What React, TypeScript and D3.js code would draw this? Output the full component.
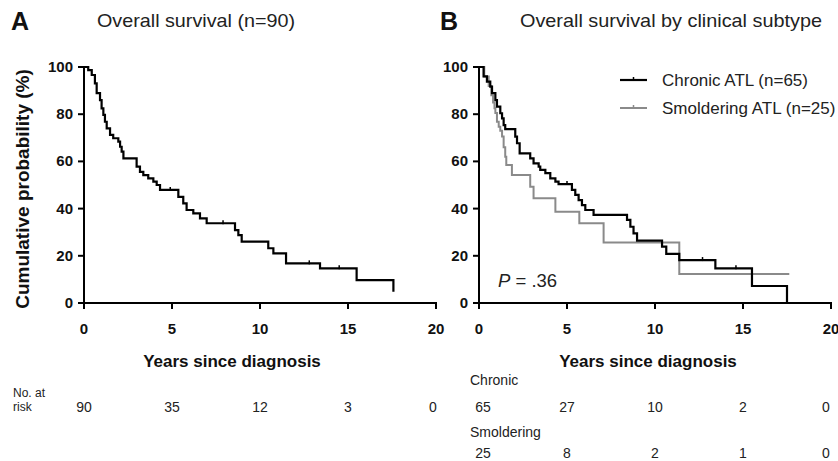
import React from "react";
import * as d3 from "d3";

// ---------- Data ----------
const xTicks = [0, 5, 10, 15, 20];
const yTicks = [0, 20, 40, 60, 80, 100];

// Panel A: overall survival (n=90) — step times (years) and survival (%) after each step
const timesA = [0, 0.24, 0.44, 0.62, 0.72, 0.91, 1.0, 1.1, 1.19, 1.29, 1.48, 1.66, 1.95, 2.05, 2.14, 2.24, 2.99, 3.18, 3.37, 3.65, 3.94, 4.13, 4.32, 5.36, 5.64, 5.83, 6.21, 6.59, 6.97, 8.58, 8.77, 8.96, 10.47, 10.76, 11.48, 13.41, 15.49, 17.58];
const survA = [100, 98.7, 96.6, 93.1, 88.9, 86, 82.5, 79.7, 76.8, 74, 71.2, 69.8, 68.4, 66.2, 64.1, 61.3, 57.8, 55.6, 54.2, 52.8, 51.4, 50, 47.9, 45, 42.2, 39.4, 38, 35.9, 33.8, 30.9, 28.8, 26, 23.2, 21, 16.8, 14.7, 9.7, 4.8];
const censorTimesA = [4.9, 7.9, 12.8, 14.5];

// Panel B: chronic ATL (n=65)
const timesC = [0, 0.26, 0.45, 0.64, 0.74, 0.93, 1.02, 1.21, 1.31, 1.4, 1.49, 2.06, 2.16, 2.31, 2.91, 3.1, 3.39, 3.48, 3.77, 4.05, 4.34, 4.52, 5.28, 5.47, 5.66, 5.85, 6.04, 6.51, 8.41, 8.6, 8.78, 8.98, 10.4, 10.64, 11.38, 13.43, 15.51, 17.5];
const survC = [100, 96, 93.8, 91.7, 88.9, 86, 83.2, 80.4, 78.2, 75.4, 73.7, 70.5, 67.7, 63.4, 61.3, 59.2, 57.8, 56.4, 55, 52.8, 51.4, 50.4, 47.9, 45.8, 43.6, 41.5, 39.4, 37.3, 35.2, 32.3, 29.5, 26.4, 23.9, 20.8, 18.2, 14.7, 7.2, 0];
const censorTimesC = [5.0, 12.7, 14.6];

// Panel B: smoldering ATL (n=25)
const timesS = [0, 0.3, 0.55, 0.7, 0.8, 0.88, 0.93, 1.02, 1.12, 1.21, 1.31, 1.4, 1.49, 1.55, 1.87, 2.91, 3.1, 4.34, 5.7, 7.08, 11.38];
const survS = [100, 96, 92, 88, 85, 82.5, 80.5, 76.8, 74.7, 73, 70.5, 66, 62, 58.5, 54.2, 49.3, 44.4, 38.7, 33.8, 25.6, 12.3];
const endS = 17.63;

const legendLabels = ["Chronic ATL (n=65)", "Smoldering ATL (n=25)"];
const riskA = [90, 35, 12, 3, 0];
const riskC = [65, 27, 10, 2, 0];
const riskS = [25, 8, 2, 1, 0];

// ---------- Layout ----------
const W = 838, H = 461;
const FONT = "'Liberation Sans', Arial, Helvetica, sans-serif";
const yScale = d3.scaleLinear().domain([0, 100]).range([303, 67]);
const xA = d3.scaleLinear().domain([0, 20]).range([84, 436]);
const xB = d3.scaleLinear().domain([0, 20]).range([479, 831]);

type Pt = [number, number];
const zip = (t: number[], s: number[]): Pt[] => t.map((v, i) => [v, s[i]]);

function stepPath(x: d3.ScaleLinear<number, number>, pts: Pt[]) {
  const line = d3
    .line<Pt>()
    .x((d) => x(d[0]))
    .y((d) => yScale(d[1]))
    .curve(d3.curveStepAfter);
  return line(pts) || "";
}

function survAt(t: number, times: number[], surv: number[]) {
  let v = surv[0];
  for (let i = 0; i < times.length; i++) if (times[i] <= t) v = surv[i];
  return v;
}

function Axes({ x }: { x: d3.ScaleLinear<number, number> }) {
  const x0 = x(0);
  const x1 = x(20);
  const y0 = yScale(0);
  return (
    <g stroke="#000" strokeWidth={2} fill="none">
      <line x1={x0} x2={x0} y1={yScale(100) - 1} y2={y0} />
      <line x1={x0 - 6} x2={x1 + 1} y1={y0} y2={y0} />
      {yTicks.map((t) => (
        <line key={"y" + t} x1={x0 - 6} x2={x0} y1={yScale(t)} y2={yScale(t)} />
      ))}
      {xTicks.map((t) => (
        <line key={"x" + t} x1={x(t)} x2={x(t)} y1={y0} y2={y0 + 6} />
      ))}
    </g>
  );
}

function AxisLabels({ x }: { x: d3.ScaleLinear<number, number> }) {
  return (
    <g fontFamily={FONT} fontWeight="bold" fontSize={15} fill="#111">
      {yTicks.map((t) => (
        <text key={"yl" + t} x={x(0) - 11} y={yScale(t) + 5} textAnchor="end">
          {t}
        </text>
      ))}
      {xTicks.map((t) => (
        <text key={"xl" + t} x={x(t)} y={334} textAnchor="middle">
          {t}
        </text>
      ))}
    </g>
  );
}

function Censors({ x, times, ts, ss, color }: { x: d3.ScaleLinear<number, number>; times: number[]; ts: number[]; ss: number[]; color: string }) {
  return (
    <g stroke={color} strokeWidth={1.5}>
      {times.map((t, i) => {
        const yy = yScale(survAt(t, ts, ss));
        return <line key={i} x1={x(t)} x2={x(t)} y1={yy - 3} y2={yy + 1} />;
      })}
    </g>
  );
}

export default function App() {
  const ptsA = zip(timesA, survA);
  const ptsC = zip(timesC, survC);
  const ptsS = zip(timesS, survS).concat([[endS, survS[survS.length - 1]]]);
  const gray = "#8a8a8a";

  return (
    <svg
      width={W}
      height={H}
      viewBox={`0 0 ${W} ${H}`}
      style={{ position: "absolute", left: 0, top: 0, background: "#fff" }}
    >
      <rect x={0} y={0} width={W} height={H} fill="#fff" />

      {/* Panel letters and titles */}
      <text x={11} y={30} fontFamily={FONT} fontWeight="bold" fontSize={25} fill="#111">A</text>
      <text x={97} y={27} fontFamily={FONT} fontSize={18.5} fill="#222" textLength={198} lengthAdjust="spacingAndGlyphs">
        Overall survival (n=90)
      </text>
      <text x={440} y={30} fontFamily={FONT} fontWeight="bold" fontSize={25} fill="#111">B</text>
      <text x={520} y={27} fontFamily={FONT} fontSize={18.5} fill="#222" textLength={302} lengthAdjust="spacingAndGlyphs">
        Overall survival by clinical subtype
      </text>

      {/* Y axis title */}
      <text
        transform={`translate(29,189) rotate(-90)`}
        textAnchor="middle"
        fontFamily={FONT}
        fontWeight="bold"
        fontSize={19}
        fill="#111"
      >
        Cumulative probability (%)
      </text>

      {/* Panel A */}
      <Axes x={xA} />
      <AxisLabels x={xA} />
      <path d={stepPath(xA, ptsA)} fill="none" stroke="#000" strokeWidth={2.2} />
      <Censors x={xA} times={censorTimesA} ts={timesA} ss={survA} color="#000" />
      <text x={232} y={367} textAnchor="middle" fontFamily={FONT} fontWeight="bold" fontSize={17} fill="#111">
        Years since diagnosis
      </text>
      <text x={13} y={397} fontFamily={FONT} fontSize={12} fill="#222">No. at</text>
      <text x={13} y={411} fontFamily={FONT} fontSize={12} fill="#222">risk</text>
      {riskA.map((v, i) => (
        <text key={"ra" + i} x={xA(xTicks[i]) - (i === 4 ? 3 : 0)} y={412} textAnchor="middle" fontFamily={FONT} fontSize={14} fill="#222">
          {v}
        </text>
      ))}

      {/* Panel B */}
      <Axes x={xB} />
      <AxisLabels x={xB} />
      <path d={stepPath(xB, ptsS)} fill="none" stroke={gray} strokeWidth={2} />
      <path d={stepPath(xB, ptsC)} fill="none" stroke="#000" strokeWidth={2.2} />
      <Censors x={xB} times={censorTimesC} ts={timesC} ss={survC} color="#000" />

      {/* Legend */}
      <g fontFamily={FONT} fontSize={17} fill="#222">
        <line x1={620} x2={647} y1={80} y2={80} stroke="#000" strokeWidth={2.2} />
        <line x1={633.5} x2={633.5} y1={77} y2={81} stroke="#000" strokeWidth={1.5} />
        <text x={662} y={86}>{legendLabels[0]}</text>
        <line x1={620} x2={647} y1={108} y2={108} stroke={gray} strokeWidth={2} />
        <line x1={633.5} x2={633.5} y1={105} y2={109} stroke={gray} strokeWidth={1.5} />
        <text x={662} y={114}>{legendLabels[1]}</text>
      </g>

      <text x={498} y={287} fontFamily={FONT} fontSize={18.5} fill="#222">
        <tspan fontStyle="italic">P</tspan> = .36
      </text>

      <text x={648} y={367} textAnchor="middle" fontFamily={FONT} fontWeight="bold" fontSize={17} fill="#111">
        Years since diagnosis
      </text>
      <text x={470} y={385} fontFamily={FONT} fontSize={14} fill="#222">Chronic</text>
      {riskC.map((v, i) => (
        <text key={"rc" + i} x={xB(xTicks[i]) + (i === 0 ? 4 : 0) - (i === 4 ? 5 : 0)} y={412} textAnchor="middle" fontFamily={FONT} fontSize={14} fill="#222">
          {v}
        </text>
      ))}
      <text x={470} y={437} fontFamily={FONT} fontSize={14} fill="#222">Smoldering</text>
      {riskS.map((v, i) => (
        <text key={"rs" + i} x={xB(xTicks[i]) + (i === 0 ? 4 : 0) - (i === 4 ? 5 : 0)} y={458} textAnchor="middle" fontFamily={FONT} fontSize={14} fill="#222">
          {v}
        </text>
      ))}
    </svg>
  );
}
